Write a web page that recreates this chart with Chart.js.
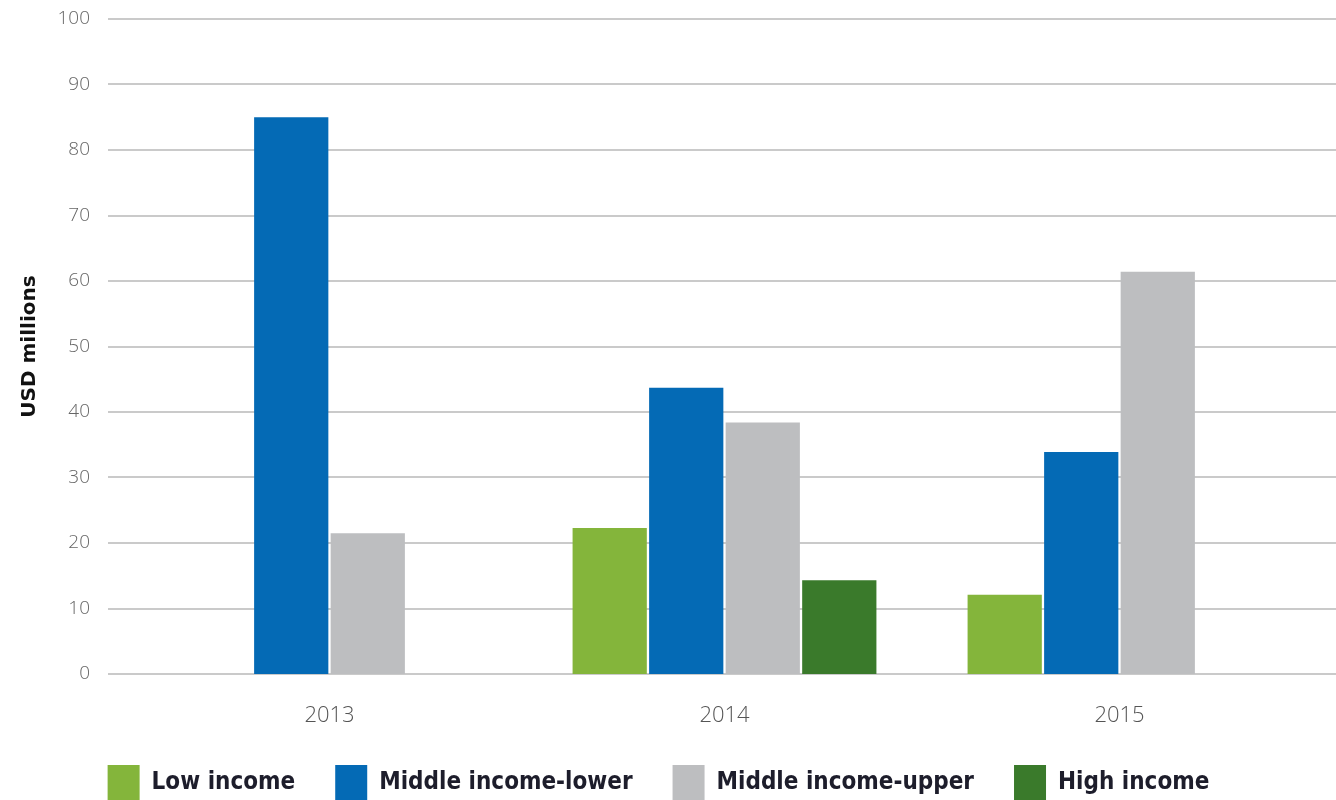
<!DOCTYPE html>
<html>
<head>
<meta charset="utf-8">
<script src="https://cdn.jsdelivr.net/npm/chart.js@4"></script>
<style>
  html, body { margin: 0; padding: 0; background: #fff; }
  #wrap { width: 1336px; height: 800px; }
</style>
</head>
<body>
<div id="wrap"><canvas id="incomeChart"></canvas></div>
<script>
// Data
const years = ['2013', '2014', '2015'];
const lowIncome   = [0, 22.3, 12.1];
const midLower    = [85.0, 43.7, 33.9];
const midUpper    = [21.5, 38.4, 61.4];
const highIncome  = [0, 14.3, 0];
const yTicks = [0, 10, 20, 30, 40, 50, 60, 70, 80, 90, 100];

// Grid lines run a little past the plot area on both sides
const wideGrid = {
  id: 'wideGrid',
  beforeDatasetsDraw(chart) {
    const { ctx, scales: { y }, chartArea, width } = chart;
    ctx.save();
    ctx.strokeStyle = '#cacaca';
    ctx.lineWidth = 2;
    y.ticks.forEach(t => {
      const py = Math.round(y.getPixelForValue(t.value));
      ctx.beginPath();
      ctx.moveTo(chartArea.left - 24, py);
      ctx.lineTo(width, py);
      ctx.stroke();
    });
    ctx.restore();
  }
};

// Legend sits at the very bottom, boxes run off the canvas edge like the original.
// Keep the wide horizontal spacing but fix its height.
const legendHeight = {
  id: 'legendHeight',
  beforeLayout(chart) {
    const lg = chart.legend;
    if (lg && !lg._fixedFit) {
      const fit = lg.fit.bind(lg);
      lg.fit = function () { fit(); this.height = 75; };
      lg._fixedFit = true;
    }
  }
};

new Chart(document.getElementById('incomeChart'), {
  type: 'bar',
  data: {
    labels: years,
    datasets: [
      { label: 'Low income',          data: lowIncome,  backgroundColor: '#84b53b' },
      { label: 'Middle income-lower', data: midLower,   backgroundColor: '#046ab5' },
      { label: 'Middle income-upper', data: midUpper,   backgroundColor: '#bdbec0' },
      { label: 'High income',         data: highIncome, backgroundColor: '#3a7a2b' }
    ]
  },
  options: {
    responsive: true, maintainAspectRatio: false, animation: false,
    layout: { padding: { left: 0, top: 19, right: 19, bottom: 0 } },
    datasets: { bar: { categoryPercentage: 0.775, barPercentage: 0.97 } },
    plugins: {
      tooltip: { enabled: false },
      legend: {
        position: 'bottom',
        labels: {
          boxWidth: 32, boxHeight: 35, padding: 40,
          color: '#1d1d2b',
          font: { family: 'DejaVu Sans Condensed', weight: 'bold', size: 24 }
        }
      }
    },
    scales: {
      x: {
        grid: { display: false, drawTicks: false }, border: { display: false },
        ticks: { color: '#555', padding: 29, font: { family: 'Open Sans', weight: 300, size: 22 } },
        afterFit: s => { s.height = 51; s.paddingLeft = s.paddingRight = 0; }
      },
      y: {
        min: 0, max: 100,
        afterBuildTicks: s => { s.ticks = yTicks.map(v => ({ value: v })); },
        grid: { display: false, drawTicks: false }, border: { display: false },
        ticks: { color: '#666', padding: 42, font: { family: 'Open Sans', weight: 300, size: 19 } },
        title: {
          display: true, text: 'USD millions', color: '#111',
          padding: { top: 18, bottom: 0 },
          font: { family: 'DejaVu Sans', weight: 'bold', size: 20 }
        },
        // tick padding would otherwise push the plot top down
        afterFit: s => { s.width = 132; s.paddingTop = s.paddingBottom = 0; }
      }
    }
  },
  plugins: [wideGrid, legendHeight]
});
</script>
</body>
</html>
